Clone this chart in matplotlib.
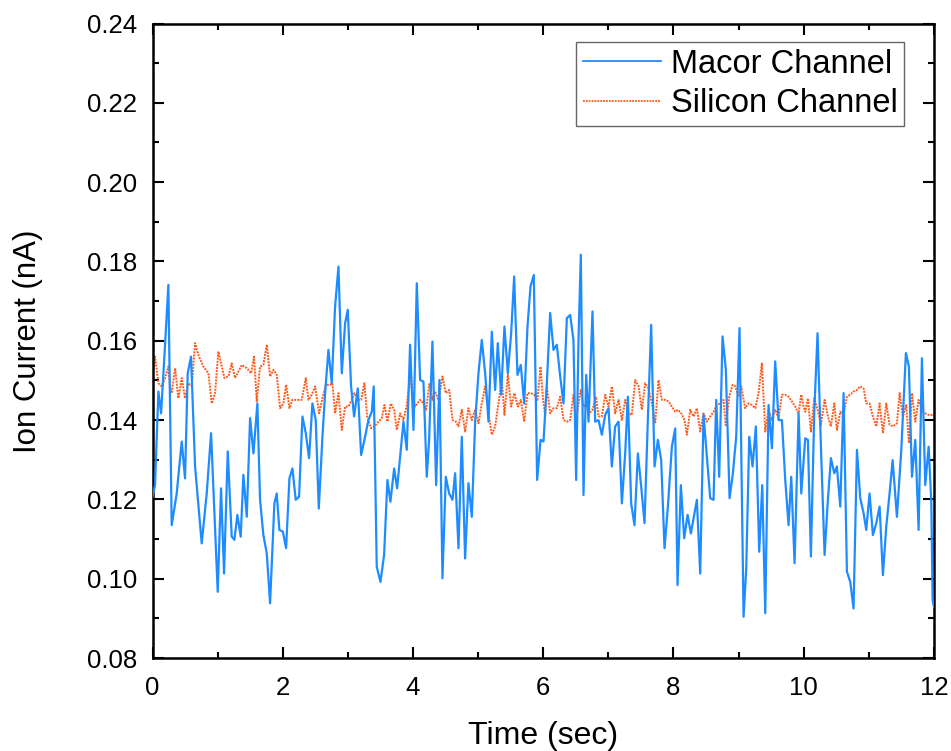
import matplotlib
matplotlib.use("Agg")
import matplotlib.pyplot as plt
from matplotlib.ticker import MultipleLocator

plt.rcParams['font.family'] = ['Liberation Sans', 'DejaVu Sans']

# Macor channel ion current (nA) vs time (s)
macor_t = [0.000, 0.038, 0.090, 0.131, 0.182, 0.243, 0.294, 0.371, 0.448, 0.499,
           0.540, 0.591, 0.653, 0.755, 0.832, 0.899, 1.001, 1.052, 1.098, 1.155,
           1.216, 1.257, 1.303, 1.354, 1.395, 1.447, 1.498, 1.549, 1.610, 1.651,
           1.702, 1.754, 1.805, 1.871, 1.907, 1.948, 2.000, 2.051, 2.102, 2.148,
           2.199, 2.250, 2.302, 2.353, 2.404, 2.455, 2.506, 2.553, 2.609, 2.650,
           2.701, 2.752, 2.803, 2.855, 2.906, 2.957, 2.998, 3.049, 3.095, 3.152,
           3.203, 3.264, 3.315, 3.367, 3.397, 3.443, 3.500, 3.556, 3.607, 3.653,
           3.710, 3.756, 3.802, 3.853, 3.904, 3.955, 4.007, 4.058, 4.109, 4.160,
           4.211, 4.247, 4.298, 4.355, 4.406, 4.452, 4.503, 4.555, 4.606, 4.647,
           4.698, 4.749, 4.800, 4.851, 4.903, 4.954, 5.005, 5.056, 5.108, 5.159,
           5.210, 5.261, 5.302, 5.353, 5.404, 5.456, 5.507, 5.553, 5.604, 5.655,
           5.707, 5.758, 5.804, 5.855, 5.906, 5.958, 6.004, 6.055, 6.106, 6.157,
           6.208, 6.260, 6.311, 6.362, 6.413, 6.464, 6.505, 6.541, 6.577, 6.618,
           6.659, 6.695, 6.756, 6.797, 6.848, 6.900, 6.951, 7.002, 7.053, 7.104,
           7.156, 7.207, 7.258, 7.299, 7.350, 7.401, 7.453, 7.504, 7.555, 7.606,
           7.657, 7.709, 7.760, 7.811, 7.862, 7.914, 7.975, 8.026, 8.062, 8.113,
           8.164, 8.216, 8.267, 8.359, 8.410, 8.461, 8.513, 8.564, 8.615, 8.656,
           8.702, 8.753, 8.804, 8.861, 8.912, 8.963, 9.014, 9.076, 9.117, 9.163,
           9.214, 9.265, 9.316, 9.363, 9.409, 9.460, 9.511, 9.562, 9.613, 9.665,
           9.716, 9.767, 9.808, 9.859, 9.921, 9.962, 10.023, 10.064, 10.110, 10.161,
           10.212, 10.264, 10.320, 10.371, 10.417, 10.469, 10.509, 10.561, 10.612, 10.663,
           10.714, 10.765, 10.817, 10.868, 10.919, 10.960, 11.011, 11.062, 11.114, 11.165,
           11.216, 11.267, 11.318, 11.365, 11.431, 11.498, 11.569, 11.615, 11.662, 11.713,
           11.764, 11.815, 11.866, 11.918, 11.959, 11.979, 12.000]
macor_i = [0.1207, 0.1236, 0.1472, 0.1417, 0.1560, 0.1741, 0.1135, 0.1215, 0.1346, 0.1253,
           0.1518, 0.1560, 0.1283, 0.1089, 0.1215, 0.1367, 0.0967, 0.1228, 0.1013, 0.1321,
           0.1106, 0.1098, 0.1161, 0.1106, 0.1262, 0.1156, 0.1405, 0.1316, 0.1442, 0.1199,
           0.1110, 0.1064, 0.0938, 0.1190, 0.1215, 0.1123, 0.1119, 0.1077, 0.1253, 0.1278,
           0.1199, 0.1207, 0.1409, 0.1367, 0.1304, 0.1442, 0.1400, 0.1177, 0.1358, 0.1468,
           0.1577, 0.1493, 0.1686, 0.1787, 0.1518, 0.1644, 0.1678, 0.1485, 0.1409, 0.1480,
           0.1312, 0.1358, 0.1400, 0.1421, 0.1485, 0.1030, 0.0992, 0.1060, 0.1249, 0.1194,
           0.1278, 0.1228, 0.1308, 0.1396, 0.1325, 0.1590, 0.1375, 0.1745, 0.1501, 0.1497,
           0.1257, 0.1350, 0.1598, 0.1236, 0.1501, 0.1001, 0.1257, 0.1215, 0.1199, 0.1266,
           0.1077, 0.1358, 0.1051, 0.1241, 0.1156, 0.1396, 0.1518, 0.1602, 0.1518, 0.1396,
           0.1623, 0.1476, 0.1594, 0.1464, 0.1636, 0.1518, 0.1619, 0.1762, 0.1514, 0.1539,
           0.1442, 0.1636, 0.1737, 0.1766, 0.1249, 0.1350, 0.1346, 0.1493, 0.1670, 0.1577,
           0.1590, 0.1510, 0.1442, 0.1657, 0.1665, 0.1602, 0.1249, 0.1602, 0.1817, 0.1211,
           0.1514, 0.1396, 0.1674, 0.1396, 0.1400, 0.1363, 0.1413, 0.1430, 0.1283, 0.1384,
           0.1396, 0.1190, 0.1316, 0.1459, 0.1190, 0.1135, 0.1316, 0.1232, 0.1140, 0.1400,
           0.1640, 0.1283, 0.1350, 0.1299, 0.1077, 0.1182, 0.1333, 0.1379, 0.0984, 0.1236,
           0.1102, 0.1161, 0.1114, 0.1199, 0.1013, 0.1413, 0.1308, 0.1203, 0.1199, 0.1451,
           0.1257, 0.1611, 0.1527, 0.1203, 0.1266, 0.1358, 0.1632, 0.0904, 0.1026, 0.1358,
           0.1283, 0.1384, 0.1068, 0.1236, 0.0913, 0.1438, 0.1329, 0.1548, 0.1400, 0.1400,
           0.1249, 0.1135, 0.1257, 0.1039, 0.1417, 0.1215, 0.1354, 0.1350, 0.1056, 0.1417,
           0.1619, 0.1333, 0.1060, 0.1199, 0.1304, 0.1266, 0.1283, 0.1182, 0.1468, 0.1018,
           0.0992, 0.0925, 0.1325, 0.1203, 0.1165, 0.1123, 0.1215, 0.1110, 0.1140, 0.1182,
           0.1009, 0.1131, 0.1215, 0.1299, 0.1156, 0.1325, 0.1569, 0.1535, 0.1257, 0.1350,
           0.1123, 0.1556, 0.1236, 0.1333, 0.1194, 0.0946, 0.0929]

# Silicon channel ion current (nA) vs time (s)
silicon_t = [0.000, 0.038, 0.090, 0.141, 0.192, 0.243, 0.269, 0.294, 0.346, 0.397,
             0.448, 0.499, 0.550, 0.602, 0.653, 0.704, 0.781, 0.858, 0.909, 0.960,
             1.011, 1.103, 1.165, 1.216, 1.267, 1.370, 1.447, 1.513, 1.559, 1.600,
             1.651, 1.702, 1.754, 1.805, 1.856, 1.907, 1.959, 2.010, 2.051, 2.102,
             2.148, 2.215, 2.291, 2.353, 2.394, 2.445, 2.496, 2.558, 2.609, 2.660,
             2.727, 2.762, 2.803, 2.855, 2.906, 2.957, 3.008, 3.059, 3.100, 3.152,
             3.203, 3.254, 3.295, 3.356, 3.408, 3.469, 3.520, 3.561, 3.607, 3.659,
             3.710, 3.751, 3.802, 3.853, 3.904, 3.955, 3.991, 4.032, 4.109, 4.160,
             4.201, 4.252, 4.298, 4.339, 4.391, 4.452, 4.503, 4.555, 4.606, 4.657,
             4.698, 4.749, 4.800, 4.851, 4.903, 4.954, 5.005, 5.056, 5.108, 5.159,
             5.210, 5.261, 5.312, 5.364, 5.404, 5.456, 5.507, 5.558, 5.609, 5.655,
             5.707, 5.758, 5.809, 5.860, 5.911, 5.958, 5.993, 6.029, 6.055, 6.106,
             6.157, 6.208, 6.260, 6.311, 6.362, 6.413, 6.464, 6.500, 6.541, 6.577,
             6.618, 6.669, 6.705, 6.756, 6.808, 6.848, 6.900, 6.951, 7.002, 7.053,
             7.104, 7.156, 7.207, 7.258, 7.309, 7.360, 7.412, 7.463, 7.514, 7.565,
             7.616, 7.668, 7.719, 7.770, 7.821, 7.873, 7.924, 7.975, 8.026, 8.067,
             8.118, 8.170, 8.205, 8.257, 8.308, 8.359, 8.410, 8.461, 8.513, 8.564,
             8.615, 8.666, 8.717, 8.768, 8.804, 8.856, 8.907, 8.948, 8.999, 9.040,
             9.101, 9.153, 9.204, 9.255, 9.306, 9.357, 9.409, 9.460, 9.511, 9.562,
             9.613, 9.665, 9.716, 9.767, 9.818, 9.869, 9.921, 9.962, 9.998, 10.023,
             10.064, 10.110, 10.161, 10.212, 10.264, 10.320, 10.371, 10.417, 10.469, 10.509,
             10.561, 10.612, 10.663, 10.714, 10.765, 10.817, 10.868, 10.919, 10.960, 11.011,
             11.062, 11.114, 11.165, 11.216, 11.267, 11.318, 11.370, 11.431, 11.472, 11.523,
             11.575, 11.615, 11.662, 11.713, 11.764, 11.815, 11.866, 11.918, 11.969, 12.000]
silicon_i = [0.1510, 0.1560, 0.1493, 0.1485, 0.1506, 0.1535, 0.1485, 0.1468, 0.1531, 0.1455,
             0.1506, 0.1455, 0.1493, 0.1485, 0.1594, 0.1564, 0.1535, 0.1518, 0.1442, 0.1468,
             0.1573, 0.1506, 0.1510, 0.1543, 0.1506, 0.1539, 0.1531, 0.1518, 0.1560, 0.1447,
             0.1535, 0.1539, 0.1590, 0.1510, 0.1527, 0.1514, 0.1430, 0.1442, 0.1489, 0.1430,
             0.1451, 0.1451, 0.1451, 0.1506, 0.1451, 0.1464, 0.1485, 0.1417, 0.1455, 0.1489,
             0.1489, 0.1493, 0.1417, 0.1468, 0.1375, 0.1434, 0.1434, 0.1451, 0.1468, 0.1451,
             0.1451, 0.1493, 0.1409, 0.1379, 0.1384, 0.1396, 0.1405, 0.1438, 0.1396, 0.1442,
             0.1426, 0.1375, 0.1417, 0.1400, 0.1438, 0.1510, 0.1468, 0.1434, 0.1451, 0.1442,
             0.1426, 0.1493, 0.1451, 0.1472, 0.1451, 0.1510, 0.1468, 0.1476, 0.1400, 0.1396,
             0.1384, 0.1426, 0.1371, 0.1430, 0.1400, 0.1426, 0.1392, 0.1442, 0.1485, 0.1417,
             0.1363, 0.1384, 0.1442, 0.1501, 0.1413, 0.1514, 0.1434, 0.1468, 0.1434, 0.1451,
             0.1396, 0.1468, 0.1468, 0.1464, 0.1451, 0.1535, 0.1459, 0.1409, 0.1485, 0.1417,
             0.1430, 0.1430, 0.1459, 0.1400, 0.1396, 0.1400, 0.1464, 0.1396, 0.1442, 0.1476,
             0.1434, 0.1442, 0.1417, 0.1426, 0.1459, 0.1409, 0.1409, 0.1464, 0.1434, 0.1485,
             0.1417, 0.1451, 0.1400, 0.1451, 0.1417, 0.1413, 0.1501, 0.1485, 0.1426, 0.1493,
             0.1480, 0.1442, 0.1392, 0.1501, 0.1451, 0.1451, 0.1447, 0.1434, 0.1421, 0.1426,
             0.1417, 0.1400, 0.1363, 0.1426, 0.1409, 0.1430, 0.1371, 0.1417, 0.1396, 0.1409,
             0.1421, 0.1438, 0.1442, 0.1451, 0.1384, 0.1459, 0.1489, 0.1485, 0.1459, 0.1485,
             0.1430, 0.1442, 0.1438, 0.1430, 0.1468, 0.1543, 0.1371, 0.1426, 0.1400, 0.1426,
             0.1405, 0.1464, 0.1464, 0.1459, 0.1447, 0.1434, 0.1417, 0.1464, 0.1434, 0.1421,
             0.1455, 0.1371, 0.1455, 0.1426, 0.1388, 0.1451, 0.1409, 0.1384, 0.1442, 0.1375,
             0.1421, 0.1413, 0.1459, 0.1464, 0.1472, 0.1476, 0.1485, 0.1480, 0.1442, 0.1442,
             0.1409, 0.1384, 0.1442, 0.1367, 0.1442, 0.1388, 0.1384, 0.1392, 0.1468, 0.1409,
             0.1438, 0.1342, 0.1468, 0.1396, 0.1451, 0.1426, 0.1417, 0.1413, 0.1413, 0.1417]

series_labels = ["Macor Channel", "Silicon Channel"]
x_ticks = [0, 2, 4, 6, 8, 10, 12]
y_ticks = [0.08, 0.10, 0.12, 0.14, 0.16, 0.18, 0.20, 0.22, 0.24]

fig = plt.figure(figsize=(9.51, 7.51), dpi=100)
ax = fig.add_axes([0.1604, 0.1238, 0.8217, 0.8449])

ax.plot(macor_t, macor_i, color="#1E8CFF", lw=1.6, label=series_labels[0], zorder=3)
ax.plot(silicon_t, silicon_i, color="#FF5A1A", lw=1.4, linestyle=(0, (1, 0.6)),
        label=series_labels[1], zorder=2)

ax.set_xlim(0, 12)
ax.set_ylim(0.08, 0.24)
ax.set_xticks(x_ticks)
ax.set_xticklabels([str(v) for v in x_ticks])
ax.set_yticks(y_ticks)
ax.set_yticklabels([f"{v:.2f}" for v in y_ticks])
ax.xaxis.set_minor_locator(MultipleLocator(1))
ax.yaxis.set_minor_locator(MultipleLocator(0.01))

ax.tick_params(which="both", direction="in", top=True, right=True, width=1.5,
               labelsize=18.5, colors="black")
ax.tick_params(which="major", length=8)
ax.tick_params(which="minor", length=4.5)
ax.tick_params(axis="x", which="major", pad=13)
ax.tick_params(axis="y", which="major", pad=11)
for sp in ax.spines.values():
    sp.set_linewidth(1.8)

ax.set_xlabel("Time (sec)", fontsize=23, labelpad=15)
ax.set_ylabel("Ion Current (nA)", fontsize=22.5, labelpad=32)

leg = ax.legend(loc="upper right", bbox_to_anchor=(0.9616, 0.9708), borderaxespad=0,
                fontsize=23.5, frameon=True, fancybox=False, edgecolor="#404040",
                handlelength=2.4, handletextpad=0.3, labelspacing=0.26, borderpad=0.2)
leg.get_frame().set_linewidth(1.0)
for line in leg.get_lines():
    line.set_linewidth(1.3)

fig.savefig("out.png", dpi=100)
